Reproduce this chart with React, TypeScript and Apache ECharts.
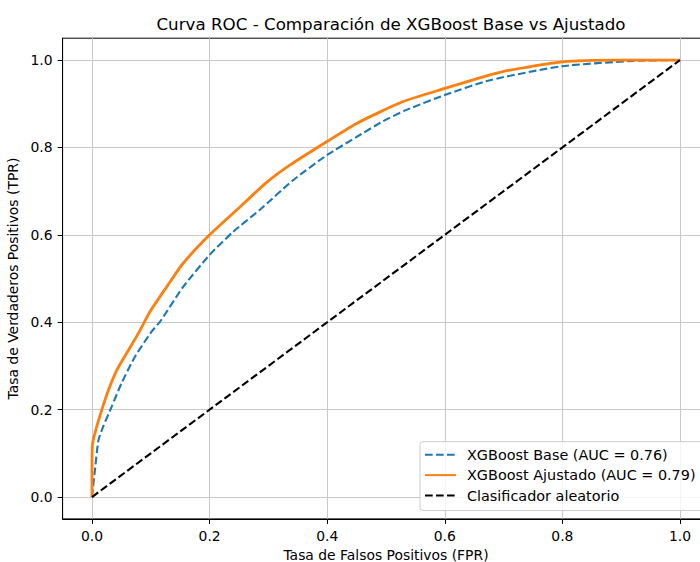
import React, { useEffect, useRef } from "react";
import * as echarts from "echarts";

const titleText = "Curva ROC - Comparación de XGBoost Base vs Ajustado";
const xAxisName = "Tasa de Falsos Positivos (FPR)";
const yAxisName = "Tasa de Verdaderos Positivos (TPR)";
const tickValues = [0, 0.2, 0.4, 0.6, 0.8, 1.0];

const baseName = "XGBoost Base (AUC = 0.76)";
const tunedName = "XGBoost Ajustado (AUC = 0.79)";
const randomName = "Clasificador aleatorio";

// [FPR, TPR]
const baseRoc: [number, number][] = [
  [0, 0], [0.005, 0.062], [0.011, 0.13], [0.019, 0.161], [0.0335, 0.207],
  [0.05, 0.26], [0.073, 0.321], [0.101, 0.378], [0.116, 0.402], [0.155, 0.481],
  [0.2, 0.554], [0.24, 0.607], [0.286, 0.658], [0.342, 0.725], [0.399, 0.782],
  [0.45, 0.824], [0.495, 0.86], [0.535, 0.886], [0.6, 0.92], [0.677, 0.954],
  [0.8, 0.986], [0.92, 0.998], [1, 1],
];

const tunedRoc: [number, number][] = [
  [0, 0], [0, 0.06], [0.001, 0.123], [0.008, 0.161], [0.0165, 0.199],
  [0.028, 0.245], [0.042, 0.29], [0.062, 0.336], [0.079, 0.375], [0.099, 0.425],
  [0.127, 0.481], [0.155, 0.535], [0.2, 0.6], [0.246, 0.657], [0.297, 0.72],
  [0.337, 0.76], [0.399, 0.813], [0.45, 0.855], [0.529, 0.905], [0.6, 0.935],
  [0.677, 0.966], [0.711, 0.977], [0.8, 0.996], [0.892, 1.0], [1, 1],
];

const randomRoc: [number, number][] = [
  [0, 0], [1, 1],
];

const FONT = "DejaVu Sans";

export default function App() {
  const ref = useRef<HTMLDivElement>(null);
  useEffect(() => {
    document.body.style.margin = "0";
    if (!ref.current) return;
    const chart = echarts.init(ref.current, undefined, { renderer: "svg" });
    const axisCommon = {
      type: "value" as const,
      min: -0.05,
      max: 1.05,
      nameLocation: "middle" as const,
      nameTextStyle: { fontFamily: FONT, fontSize: 13.9, color: "#000" },
      axisLine: { show: true, onZero: false, lineStyle: { color: "#000", width: 1 } },
      axisTick: {
        show: true,
        length: 5,
        customValues: tickValues,
        lineStyle: { color: "#000", width: 1 },
      },
      axisLabel: {
        customValues: tickValues,
        formatter: (v: number) => v.toFixed(1),
        fontFamily: FONT,
        fontSize: 13.9,
        color: "#000",
        margin: 10,
      },
      splitLine: { show: true, lineStyle: { color: "#c8c8c8", width: 1 } },
    };
    const legendText = { fontFamily: FONT, fontSize: 14.4, color: "#000" };
    chart.setOption({
      animation: false,
      title: {
        text: titleText,
        left: 386,
        top: 10,
        textAlign: "center",
        textStyle: { fontFamily: FONT, fontSize: 16.7, fontWeight: "normal", color: "#000" },
      },
      grid: {
        left: 62.6,
        top: 38.2,
        width: 646.8,
        height: 480.7,
        outerBoundsMode: "none",
        containLabel: false,
        show: true,
        borderColor: "#000",
        borderWidth: 1,
        backgroundColor: "transparent",
      },
      legend: {
        left: 420,
        top: 441.7,
        orient: "vertical",
        padding: [6, 20, 8, 4],
        itemWidth: 31,
        itemHeight: 14,
        itemGap: 6.4,
        backgroundColor: "rgba(255,255,255,0.8)",
        borderColor: "#cccccc",
        borderWidth: 1,
        borderRadius: 3,
        itemStyle: { opacity: 0 },
        textStyle: legendText,
        formatter: (name: string) => "{t|" + name + "}",
        data: [baseName, tunedName, randomName],
      },
      xAxis: { ...axisCommon, name: xAxisName, nameGap: 29 },
      yAxis: { ...axisCommon, name: yAxisName, nameGap: 37, nameRotate: 90 },
      series: [
        {
          name: baseName,
          type: "line",
          data: baseRoc,
          symbol: "none",
          showSymbol: false,
          smooth: 0.2,
          lineStyle: { color: "#1f77b4", width: 2.1, type: [7.7, 3.3] },
          itemStyle: { color: "#1f77b4" },
          z: 2,
        },
        {
          name: tunedName,
          type: "line",
          data: tunedRoc,
          symbol: "none",
          showSymbol: false,
          smooth: 0.2,
          lineStyle: { color: "#ff7f0e", width: 2.8, type: "solid" },
          itemStyle: { color: "#ff7f0e" },
          z: 3,
        },
        {
          name: randomName,
          type: "line",
          data: randomRoc,
          symbol: "none",
          showSymbol: false,
          lineStyle: { color: "#000", width: 2.1, type: [7.7, 3.3] },
          itemStyle: { color: "#000" },
          z: 4,
        },
      ],
    });
    chart.setOption({
      legend: {
        textStyle: {
          ...legendText,
          rich: { t: { ...legendText, padding: [0, 0, 0, 6] } },
        },
      },
    });
    return () => chart.dispose();
  }, []);
  return (
    <div style={{ width: 700, height: 562, overflow: "hidden", position: "relative" }}>
      <div ref={ref} style={{ width: 720, height: 562 }} />
    </div>
  );
}
